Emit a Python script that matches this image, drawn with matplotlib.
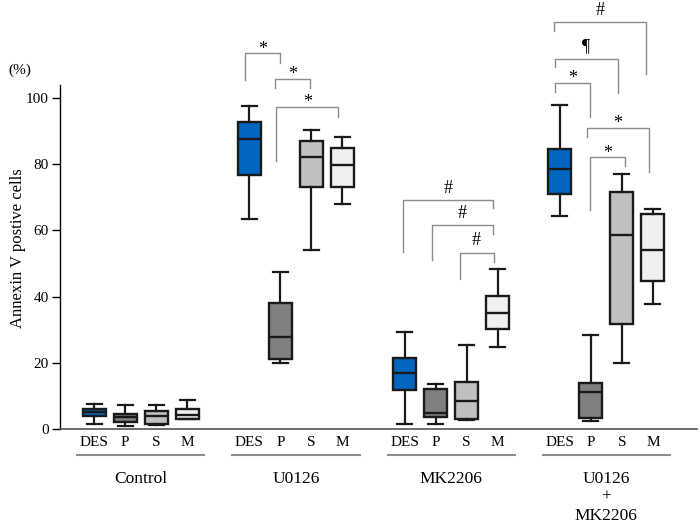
import matplotlib.pyplot as plt

plt.rcParams['font.family'] = ['Liberation Serif', 'DejaVu Serif']

groups = ['Control', 'U0126', 'MK2206', 'U0126\n+\nMK2206']
treatments = ['DES', 'P', 'S', 'M']
colors = ['#0066bf', '#808080', '#c0c0c0', '#f0f0f0']

# box stats per treatment: (whisker low, q1, median, q3, whisker high), one row per group
des = [(1.4, 3.9, 5.0, 6.0, 7.5), (63.4, 76.6, 87.6, 92.7, 97.5),
       (1.4, 11.8, 17.0, 21.5, 29.2), (64.3, 70.9, 78.6, 84.6, 98.0)]
p = [(0.9, 2.0, 3.5, 4.4, 7.2), (20.0, 21.0, 27.9, 38.2, 47.3),
     (1.5, 3.6, 4.7, 12.0, 13.5), (2.5, 3.2, 11.3, 14.0, 28.5)]
s = [(1.3, 1.5, 4.0, 5.5, 7.3), (54.2, 73.0, 82.2, 86.9, 90.4),
     (2.6, 2.9, 8.6, 14.1, 25.5), (19.9, 31.7, 58.5, 71.6, 77.1)]
m = [(3.1, 3.1, 4.1, 6.1, 8.8), (67.9, 73.0, 79.8, 84.8, 88.2),
     (24.9, 30.2, 35.1, 40.3, 48.2), (37.7, 44.8, 54.1, 65.0, 66.4)]
series = [des, p, s, m]

# significance brackets: (x left, x right, top, left leg end, right leg end, mark)
brackets = [
    (4.87, 6.0, 113.5, 105.4, 110.6, '*'),
    (5.84, 6.94, 105.7, 103.0, 103.0, '*'),
    (5.87, 7.87, 97.3, 81.0, 94.3, '*'),
    (9.94, 12.84, 69.2, 53.6, 66.8, '#'),
    (10.87, 12.84, 61.6, 51.1, 58.9, '#'),
    (11.77, 12.87, 53.3, 45.3, 50.5, '#'),
    (14.81, 17.77, 122.9, 120.2, 107.3, '#'),
    (14.83, 16.86, 111.8, 109.2, 101.4, '\u00b6'),
    (14.84, 15.97, 104.6, 101.9, 94.2, '*'),
    (15.87, 17.87, 91.0, 88.3, 77.6, '*'),
    (15.97, 17.1, 82.1, 66.2, 79.5, '*'),
]

fig = plt.figure(figsize=(7, 5.29), dpi=100)
ax = fig.add_axes([60 / 700, 1 - 429 / 529, 637 / 700, 344 / 529])

for k, (vals, col) in enumerate(zip(series, colors)):
    stats = []
    pos = []
    for g, (lo, q1, med, q3, hi) in enumerate(vals):
        stats.append(dict(whislo=lo, q1=q1, med=med, q3=q3, whishi=hi, fliers=[]))
        pos.append(g * 5 + k)
    ax.bxp(stats, positions=pos, widths=0.74, patch_artist=True, showfliers=False,
           boxprops=dict(facecolor=col, edgecolor='#1a1a1a', linewidth=1.7),
           medianprops=dict(color='#1a1a1a', linewidth=1.7),
           whiskerprops=dict(color='#1a1a1a', linewidth=1.6),
           capprops=dict(color='#1a1a1a', linewidth=1.6), capwidths=0.48,
           manage_ticks=False)

ax.set_xlim(-1.1, 19.42)
ax.set_ylim(0, 103.9)
ax.set_yticks([0, 20, 40, 60, 80, 100])
ax.tick_params(axis='y', labelsize=11, length=6, width=1, pad=2)
ax.set_xticks([])
for side in ['top', 'right']:
    ax.spines[side].set_visible(False)
ax.spines['left'].set_linewidth(1.0)
ax.spines['bottom'].set_color('#555555')
ax.spines['bottom'].set_linewidth(1.2)

# category labels, group underlines and group names
for g, name in enumerate(groups):
    for k, t in enumerate(treatments):
        ax.text(g * 5 + k, -4.2, t, ha='center', va='center', fontsize=11, clip_on=False)
    ax.plot([g * 5 - 0.55, g * 5 + 3.55], [-7.9, -7.9], color='#8c8c8c', lw=1.5, clip_on=False)
    ax.text(g * 5 + 1.5, -12.6, name, ha='center', va='top', fontsize=12.5,
            linespacing=1.2, clip_on=False)

for x1, x2, top, yl, yr, mark in brackets:
    ax.plot([x1, x1, x2, x2], [yl, top, top, yr], color='#8c8c8c', lw=1.0, clip_on=False)
    off = 3.0 if mark == '*' else 8.5
    ax.annotate(mark, ((x1 + x2) / 2, top), xytext=(0, off), textcoords='offset points',
                ha='center', va='center', fontsize=13, annotation_clip=False)

fig.text(18 / 700, 1 - 248 / 529, 'Annexin V postive cells', rotation=90,
         ha='center', va='center', fontsize=12)
fig.text(20 / 700, 1 - 70 / 529, '(%)', ha='center', va='center', fontsize=11)

fig.savefig('out.png', dpi=100)
